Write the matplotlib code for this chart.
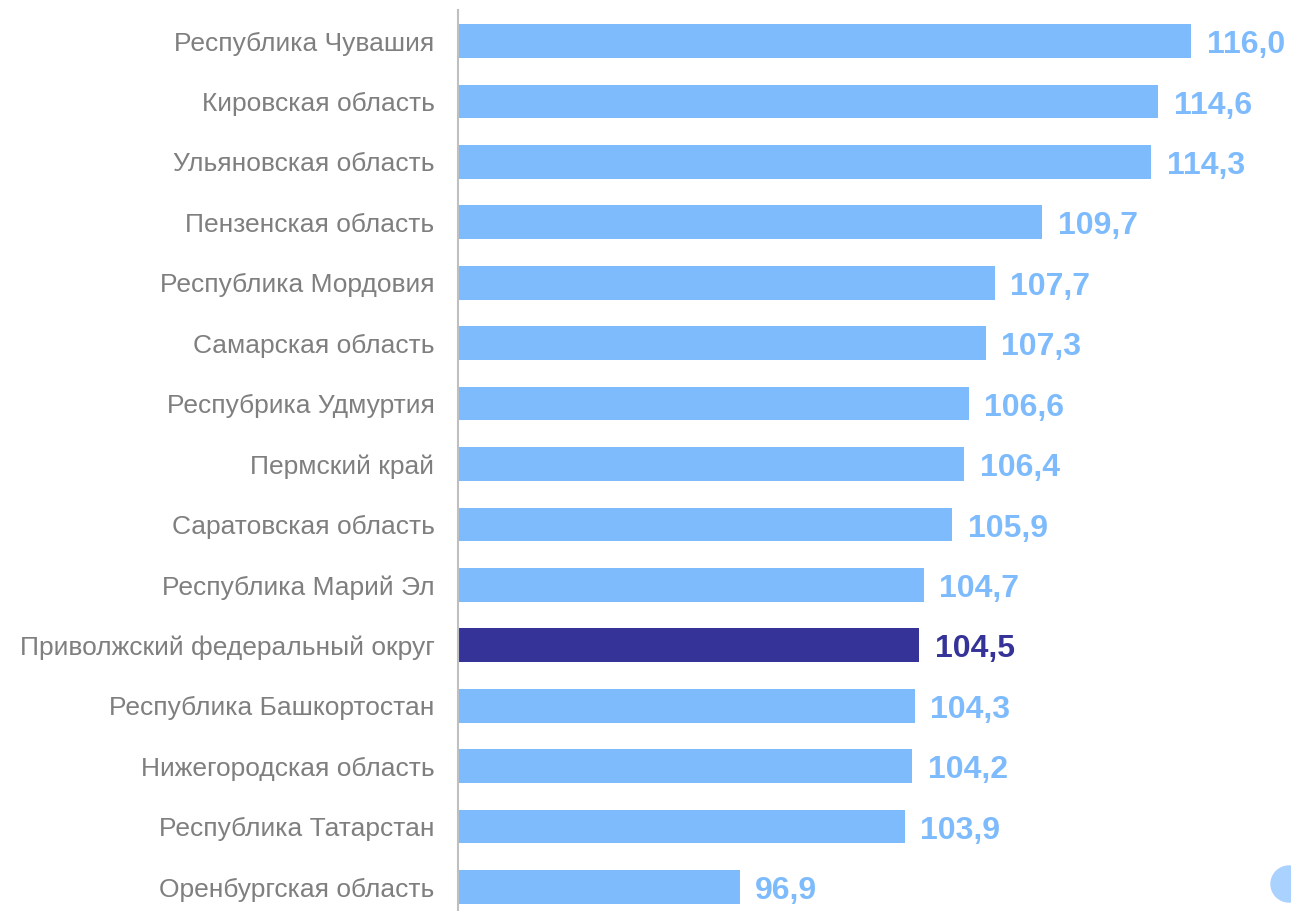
import matplotlib
matplotlib.use("Agg")
import matplotlib.pyplot as plt
from matplotlib.patches import Ellipse

regions = ["Республика Чувашия", "Кировская область", "Ульяновская область",
           "Пензенская область", "Республика Мордовия", "Самарская область",
           "Респубрика Удмуртия", "Пермский край", "Саратовская область",
           "Республика Марий Эл", "Приволжский федеральный округ",
           "Республика Башкортостан", "Нижегородская область",
           "Республика Татарстан", "Оренбургская область"]
values = [116.0, 114.6, 114.3, 109.7, 107.7, 107.3, 106.6, 106.4, 105.9,
          104.7, 104.5, 104.3, 104.2, 103.9, 96.9]
highlight = "Приволжский федеральный округ"

plt.rcParams['font.family'] = ['Liberation Sans', 'DejaVu Sans']

W, H = 1291, 911
fig = plt.figure(figsize=(W / 100, H / 100), dpi=100)
ax = fig.add_axes([458 / W, 0, (W - 458) / W, 1 - 10 / H])

light = "#7EBBFD"
dark = "#353397"
colors = [dark if r == highlight else light for r in regions]
ypos = list(range(len(regions)))
ax.barh(ypos, values, height=0.56, color=colors, left=0)
ax.set_xlim(85, 85 + (W - 458) / 23.66)
ax.set_ylim(14 + 24 / 60.43, -31 / 60.43)

for y, v, c in zip(ypos, values, colors):
    ax.annotate(f"{v:.1f}".replace(".", ","), xy=(v, y), xytext=(11, -3),
                textcoords="offset points", va="center", ha="left",
                fontsize=23, fontweight="bold", color=c)

ax.set_yticks(ypos)
ax.set_yticklabels(regions, fontsize=19, color="#7F7F7F")
ax.tick_params(axis="y", length=0, pad=17)
ax.set_xticks([])
for s in ["top", "right", "bottom"]:
    ax.spines[s].set_visible(False)
ax.spines["left"].set_color("#BFBFBF")
ax.spines["left"].set_linewidth(1.5)

fig.patches.append(Ellipse((1289 / W, 1 - 884 / H), 36 / W, 36 / H,
                           transform=fig.transFigure, color="#AAD2FF", zorder=5))

fig.savefig("out.png", dpi=100)
